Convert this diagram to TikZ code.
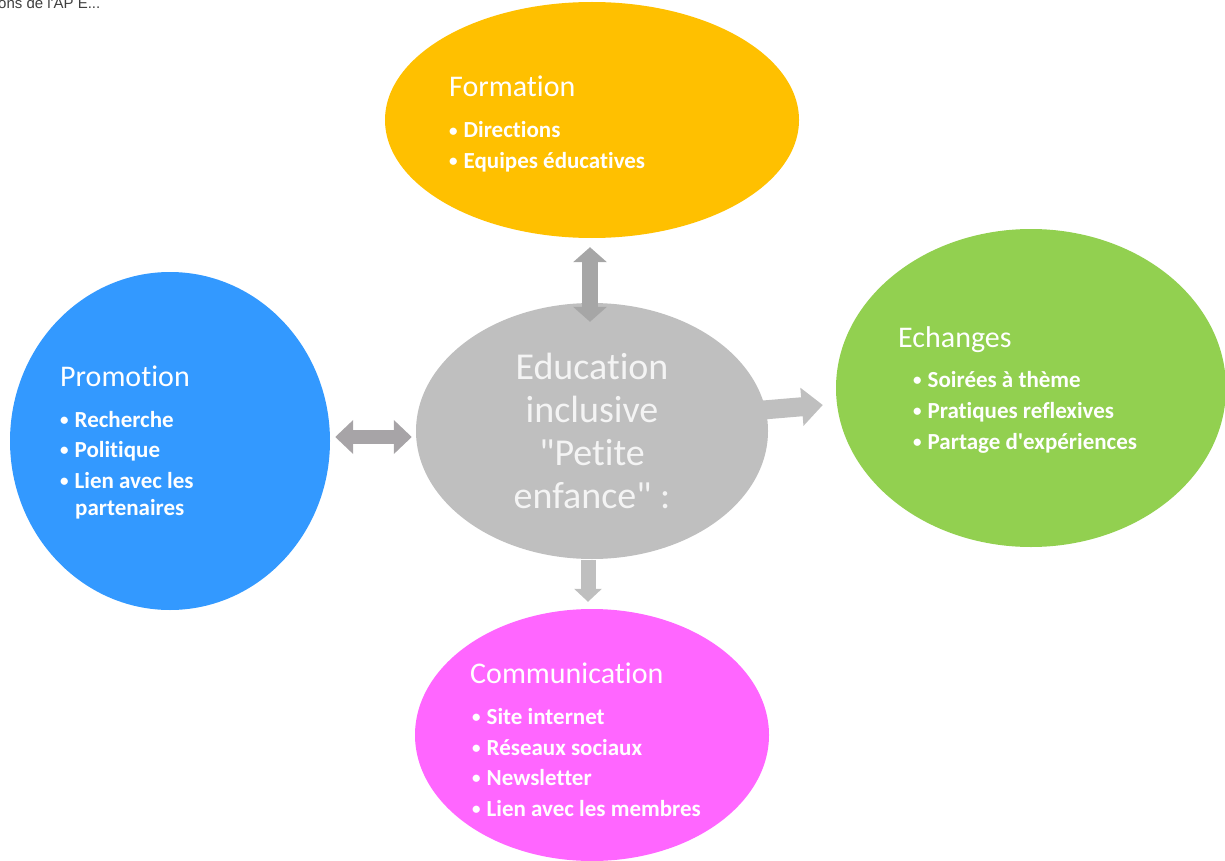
\documentclass[tikz,border=0pt]{standalone}
\usepackage{xcolor}
\usepackage{fontspec}
\setmainfont{Carlito}[Ligatures={NoCommon}]
\newfontfamily\arialfont{Liberation Sans}
\usepackage{tikz}
\usetikzlibrary{shapes.geometric,arrows.meta}

\definecolor{jaune}{HTML}{FFC000}
\definecolor{bleu}{HTML}{3399FF}
\definecolor{vert}{HTML}{92D050}
\definecolor{rose}{HTML}{FF66FF}
\definecolor{gris}{HTML}{BFBFBF}
\definecolor{grisfonce}{HTML}{A6A6A6}
\definecolor{grisrose}{HTML}{A7A4A7}
\definecolor{blanccasse}{HTML}{F4F4F4}

\newcommand{\puce}[1]{\raisebox{1.5pt}{\fontsize{17}{17}\selectfont\textbullet}\hspace{6pt}#1}

\begin{document}
\begin{tikzpicture}[x=1pt, y=-1pt,
    bulle/.style={ellipse, inner sep=0pt, draw=none},
    titre/.style={anchor=base west, inner sep=0pt, text=white, font=\fontsize{30}{36}\selectfont},
    item/.style={anchor=base west, inner sep=0pt, text=white, font=\bfseries\fontsize{23}{28}\selectfont},
    fleche/.style={line width=16pt, color=grisfonce}]
    \clip (0,0) rectangle (1225,861);
    \useasboundingbox (0,0) rectangle (1225,861);

    % Caption (cut off)
    \node[anchor=base west, inner sep=0pt, text=black!75, font=\arialfont\fontsize{15}{17}\selectfont] (legende) at (-2,9) {ons de l\textquotesingle AP E...};

    % Ellipses
    \node[bulle, fill=jaune, minimum width=414pt, minimum height=236pt] (form) at (592,120) {};
    \node[bulle, fill=bleu, minimum width=320pt, minimum height=338pt] (promo) at (170,441) {};
    \node[bulle, fill=vert, minimum width=390pt, minimum height=318pt] (echa) at (1031,388) {};
    \node[bulle, fill=rose, minimum width=354pt, minimum height=252pt] (comm) at (592,735) {};
    \node[bulle, fill=gris, minimum width=352pt, minimum height=256pt, text=blanccasse,
          align=center, font=\fontsize{38}{43}\selectfont] (edu) at (592,431)
          {Education\\inclusive\\\textquotedbl Petite\\enfance\textquotedbl\ :};

    % Arrows
    \draw[fleche, {Triangle[width=33pt,length=15pt]}-{Triangle[width=33pt,length=15pt]}]
        ([shift={(-2pt,-9pt)}]form.south) -- ([shift={(-2pt,-19pt)}]edu.north);
    \draw[fleche, line width=14pt, color=grisrose, {Triangle[width=33pt,length=18pt]}-{Triangle[width=33pt,length=18pt]}]
        ([shift={(5pt,4pt)}]promo.east) -- ([shift={(-4pt,-6pt)}]edu.west);
    \draw[fleche, line width=19pt, color=gris, -{Triangle[width=37pt,length=21pt]}]
        ([shift={(-5pt,21pt)}]edu.east) -- ([shift={(-13pt,-17pt)}]echa.west);
    \draw[fleche, line width=15pt, color=gris, -{Triangle[width=27pt,length=13pt]}]
        ([shift={(-4pt,-1pt)}]edu.south) -- ([shift={(-4pt,7pt)}]comm.north);

    % Labels
    \node[titre] (formtitre) at (449,97) {Formation};
    \node[item] (form1) at (449,138) {\puce{Directions}};
    \node[item] (form2) at (449,168) {\puce{Equipes éducatives}};

    \node[titre] (promotitre) at (60,386) {Promotion};
    \node[item] (promo1) at (60,427) {\puce{Recherche}};
    \node[item] (promo2) at (60,457) {\puce{Politique}};
    \node[item] (promo3) at (60,488) {\puce{Lien avec les}};
    \node[item] (promo4) at (75,515) {partenaires};

    \node[titre] (echatitre) at (898,347) {Echanges};
    \node[item] (echa1) at (913,387) {\puce{Soirées à thème}};
    \node[item] (echa2) at (913,418) {\puce{Pratiques reflexives}};
    \node[item] (echa3) at (913,449) {\puce{Partage d\textquotesingle expériences}};

    \node[titre] (commtitre) at (470,683) {Communication};
    \node[item] (comm1) at (472,724) {\puce{Site internet}};
    \node[item] (comm2) at (472,755) {\puce{Réseaux sociaux}};
    \node[item] (comm3) at (472,785) {\puce{Newsletter}};
    \node[item] (comm4) at (472,816) {\puce{Lien avec les membres}};

\end{tikzpicture}
\end{document}
